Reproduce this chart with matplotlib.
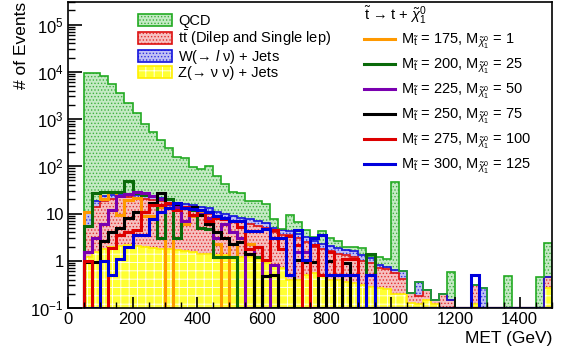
import numpy as np
import matplotlib
matplotlib.use("Agg")
import matplotlib.pyplot as plt
from matplotlib.patches import Patch
from matplotlib.lines import Line2D
from matplotlib.ticker import FixedLocator, FixedFormatter, MultipleLocator, NullFormatter

plt.rcParams['font.family'] = ['Liberation Sans', 'DejaVu Sans']
plt.rcParams['mathtext.fontset'] = 'custom'
plt.rcParams['mathtext.rm'] = 'Liberation Sans'
plt.rcParams['mathtext.it'] = 'Liberation Sans:italic'
plt.rcParams['mathtext.bf'] = 'Liberation Sans:bold'
plt.rcParams['hatch.linewidth'] = 0.6

# MET binning, 25 GeV bins from 50 to 1500
met_edges = np.arange(50, 1501, 25)

# backgrounds (events per bin)
z_jets = [1.2, 1.5, 1.8, 2.0, 2.1, 2.2, 2.1, 2.0, 1.9, 1.8,
          1.8, 1.7, 1.6, 1.5, 1.4, 1.4, 1.3, 1.3, 1.2, 1.2,
          1.2, 1.1, 0.9, 0.8, 0.7, 0.4, 0.4, 0.5, 0.55, 0.5,
          0.4, 0.4, 0.35, 0.34, 0.3, 0.28, 0.27, 0.25, 0.2, 0.2,
          0.13, 0.12, 0.15, 0.12, 0, 0, 0, 0, 0.12, 0,
          0, 0, 0, 0, 0, 0, 0, 0.26]
ttbar = [4.3, 12.5, 16.2, 18.0, 19.9, 19.8, 18.9, 18.0, 17.1, 16.2,
         14.2, 12.3, 11.4, 10.5, 9.6, 8.6, 7.7, 6.7, 5.8, 5.3,
         4.8, 4.4, 4.1, 3.2, 2.8, 3.1, 2.6, 2.0, 1.45, 1.3,
         1.2, 1.0, 0.95, 0.86, 0.7, 0.62, 0.43, 0.42, 0.35, 0.21,
         0.08, 0.06, 0.09, 0.03, 0.2, 0.15, 0, 0, 0.18, 0,
         0, 0, 0, 0, 0, 0, 0, 0.19]
w_jets = [5.5, 4.0, 6.0, 5.0, 4.0, 4.0, 4.0, 4.0, 3.0, 3.0,
          3.0, 3.0, 3.0, 3.0, 3.0, 3.0, 2.0, 2.0, 2.0, 1.5,
          1.5, 1.5, 1.2, 1.0, 0.9, 0.8, 0.7, 0.7, 0.6, 0.5,
          0.5, 0.5, 0.4, 0.4, 0.3, 0.25, 0.11, 0.08, 0.1, 0.19,
          0, 0.18, 0, 0, 0, 0, 0, 0, 0, 0.27,
          0, 0, 0, 0, 0, 0, 0, 0]
qcd = [9490, 9280, 8180, 5480, 3470, 2170, 1300, 770, 520, 340,
       230, 140, 134, 83, 74, 89, 50, 32, 19, 19,
       10.5, 11, 9.8, 2.5, 0.3, 5.0, 2.8, 1.3, 0.6, 1.9,
       0.9, 0.7, 0.3, 0.4, 0.6, 0.1, 0.39, 0.32, 46, 0,
       0, 0, 0, 0, 0, 0.42, 0, 0, 0, 0,
       0, 0, 0.48, 0, 0, 0, 0.46, 1.95]

# signal points (stop mass, neutralino mass)
sig_175_1 = [11, 27, 20, 29, 9.5, 19, 21, 9, 9, 14,
             0, 13, 6, 9, 11, 6, 2.3, 0, 2.3, 0,
             2.3, 0, 0, 0, 0, 0, 0, 0, 0, 0] + [0] * 28
sig_200_25 = [5.5, 27, 29, 29, 29, 48, 27, 25, 23, 3,
              20, 3, 14, 12, 5, 4.6, 1.2, 1.2, 1.2, 0,
              0, 1.2, 0, 0, 0, 0, 0, 0, 0, 0,
              0, 0, 0, 0, 0, 1.4, 0, 0, 0, 0] + [0] * 18
sig_225_50 = [1.5, 3.0, 6, 12, 24, 26, 28, 27, 24, 20,
              16, 14, 7, 14, 10, 8, 3, 6, 4, 3,
              0, 2, 0, 0.8, 0, 0, 1.5, 1.5, 0, 0] + [0] * 28
sig_250_75 = [0.95, 0.95, 2.6, 4, 5, 8, 11, 11, 17, 27,
              13, 16, 13, 13.5, 9.5, 6, 4, 3, 2.3, 2.5,
              1.4, 0, 0.48, 0.5, 0, 0, 1.05, 0.96, 0.96, 0,
              1.0, 0, 0.9, 0, 0, 0, 0, 0, 0, 0] + [0] * 18
sig_275_100 = [1.0, 0, 0, 1.9, 3.5, 4.1, 4.5, 11, 15, 15,
               17, 12, 14, 9.5, 12, 7, 8, 7.5, 7, 5.3,
               1.8, 2.0, 1.05, 4.5, 1.8, 3.4, 2.2, 0, 2.2, 0.5,
               1.5, 0.5, 1.1, 1.1, 0, 0.5, 0, 0, 0, 0] + [0] * 18
sig_300_125 = [0, 0, 1.0, 0.5, 1.1, 2.0, 3.5, 3.5, 7.5, 11,
               13, 17, 13, 12.5, 12, 11, 9, 8, 7, 7,
               4.2, 4.2, 4.6, 3.0, 3.0, 0.5, 4.5, 1.05, 3.0, 3.5,
               0.5, 0.5, 0.5, 0.5, 0, 0.5, 0, 0, 0, 0,
               0, 0, 0, 0, 0, 0, 0, 0, 0.5, 0] + [0] * 8

y_min, y_max = 0.1, 3e5

fig = plt.figure(figsize=(5.69, 3.56), dpi=100)
ax = fig.add_axes([68 / 569, 48 / 356, 484 / 569, 306 / 356])
ax.set_yscale('log')

# --- stacked backgrounds (bottom to top) ---
stack = {
    'z': (z_jets, '#ffff33', 'white', '#ffee00', '++'),
    'tt': (ttbar, '#f6c0c0', '#e03030', '#dd1111', '.....'),
    'w': (w_jets, '#c0c0f4', '#3030e0', '#1111dd', '.....'),
    'qcd': (qcd, '#c4eac4', '#40b040', '#22aa22', '.....'),
}
stack_order = ['z', 'tt', 'w', 'qcd']

bottom = np.zeros(len(qcd))
for key in stack_order:
    vals, face, hatch_col, line_col, hatch = stack[key]
    top = bottom + np.array(vals, dtype=float)
    top_p = np.where(top > 0, top, 1e-3)
    bot_p = np.where(bottom > 0, bottom, 1e-3)
    ax.stairs(top_p, met_edges, baseline=bot_p, fill=True, facecolor=face,
              edgecolor=hatch_col, hatch=hatch, linewidth=0)
    bottom = top

bottom = np.zeros(len(qcd))
for key in stack_order:
    vals, face, hatch_col, line_col, hatch = stack[key]
    top = bottom + np.array(vals, dtype=float)
    top_p = np.where(top > 0, top, 1e-3)
    ax.stairs(top_p, met_edges, baseline=1e-3, color=line_col, linewidth=1.2)
    bottom = top

# --- signal lines ---
signals = [
    (sig_175_1, '#ff9900', '175', '1'),
    (sig_200_25, '#0a6a0a', '200', '25'),
    (sig_225_50, '#7a00b0', '225', '50'),
    (sig_250_75, 'black', '250', '75'),
    (sig_275_100, '#dd0000', '275', '100'),
    (sig_300_125, '#0000dd', '300', '125'),
]
sig_handles = []
sig_labels = []
for vals, col, m_stop, m_lsp in signals:
    v = np.array(vals, dtype=float)
    v = np.where(v > 0, v, y_min)
    ax.stairs(v, met_edges, baseline=y_min, color=col, linewidth=2.2)
    sig_handles.append(Line2D([], [], color=col, linewidth=2.2))
    sig_labels.append(r'M$_{\tilde{\mathrm{t}}}$ = %s, M$_{\tilde{\chi}^{0}_{1}}$ = %s' % (m_stop, m_lsp))

ax.set_xlim(0, 1500)
ax.set_ylim(y_min, y_max)

# axes in ROOT style
y_ticks = [0.1, 1, 10, 100, 1000, 1e4, 1e5]
y_tick_labels = [r'10$^{-1}$', '1', '10', r'10$^{2}$', r'10$^{3}$', r'10$^{4}$', r'10$^{5}$']
ax.yaxis.set_major_locator(FixedLocator(y_ticks))
ax.yaxis.set_major_formatter(FixedFormatter(y_tick_labels))
minors = [m * 10.0 ** e for e in range(-1, 6) for m in range(2, 10)]
ax.yaxis.set_minor_locator(FixedLocator(minors))
ax.yaxis.set_minor_formatter(NullFormatter())
ax.xaxis.set_major_locator(MultipleLocator(200))
ax.xaxis.set_minor_locator(MultipleLocator(50))
ax.tick_params(axis='both', which='both', direction='in', top=False, right=False, labelsize=12)
ax.tick_params(axis='y', which='major', length=10, width=1.2, pad=3)
ax.tick_params(axis='y', which='minor', length=5, width=1.0)
ax.tick_params(axis='x', which='major', length=8, width=1.2, pad=3)
ax.tick_params(axis='x', which='minor', length=4, width=1.0)
for s in ax.spines.values():
    s.set_linewidth(1.2)

ax.set_xlabel('MET (GeV)', fontsize=12.5, loc='right')
ax.xaxis.set_label_coords(1.0, -0.075)
ax.set_ylabel('# of Events', fontsize=12.5, loc='top')
ax.yaxis.set_label_coords(-0.08, 1.0)

# background legend
bkg_handles = []
for key in ['qcd', 'tt', 'w', 'z']:
    vals, face, hatch_col, line_col, hatch = stack[key]
    fill_p = Patch(facecolor=face, edgecolor=hatch_col, hatch=hatch, linewidth=0)
    edge_p = Patch(facecolor='none', edgecolor=line_col, linewidth=1.2)
    bkg_handles.append((fill_p, edge_p))
bkg_labels = ['QCD', r't$\bar{\mathrm{t}}$ (Dilep and Single lep)',
              'W(→ $l$ ν) + Jets', 'Z(→ ν ν) + Jets']
leg1 = fig.legend(bkg_handles, bkg_labels, loc='upper left',
                  bbox_to_anchor=(138 / 569, 1 - 14 / 356), frameon=False,
                  fontsize=10.5, handlelength=2.3, handleheight=0.85,
                  handletextpad=0.45, labelspacing=0.0, borderpad=0, borderaxespad=0)

leg2 = fig.legend(sig_handles, sig_labels, loc='upper left',
                  bbox_to_anchor=(364 / 569, 1 - 4 / 356), frameon=False,
                  fontsize=10.5, handlelength=2.1, handletextpad=0.45,
                  labelspacing=0.4, borderpad=0, borderaxespad=0,
                  title=r'$\tilde{\mathrm{t}}$ → t + $\tilde{\chi}^{0}_{1}$',
                  title_fontsize=10.5, alignment='left')

fig.savefig('out.png', dpi=100)
